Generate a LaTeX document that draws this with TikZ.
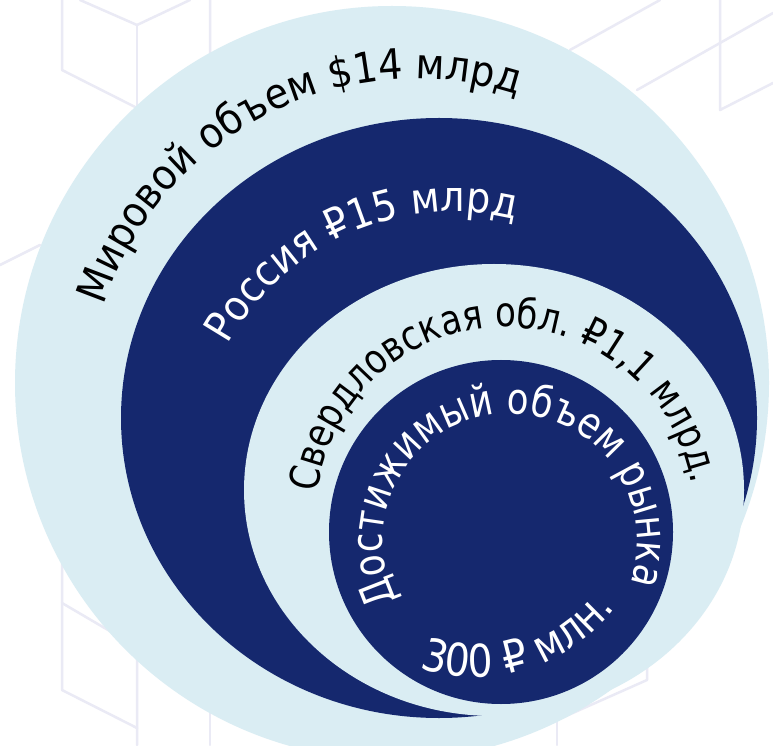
\documentclass[tikz,border=0pt]{standalone}
\usepackage{fontspec}
\newfontfamily\widelabel[FakeStretch=0.91]{DejaVu Sans}
\newfontfamily\narrowlabel[FakeStretch=0.83]{DejaVu Sans}
\newfontfamily\midlabel[FakeStretch=0.875]{DejaVu Sans}
\usetikzlibrary{decorations.text}
\definecolor{paleblue}{RGB}{218,237,243}
\definecolor{navy}{RGB}{21,40,110}
\definecolor{gridline}{RGB}{234,234,245}
\newcommand\worldfont{\widelabel\fontsize{42pt}{50pt}\selectfont}
\newcommand\regionfont{\narrowlabel\fontsize{41pt}{49pt}\selectfont}
\newcommand\reachfont{\narrowlabel\fontsize{43pt}{51pt}\selectfont}
\newcommand\sumfont{\midlabel\fontsize{45pt}{54pt}\selectfont}
\tikzset{
  gridstroke/.style={draw=gridline, line width=2.5pt, line join=round, line cap=round},
}
\begin{document}
\begin{tikzpicture}[x=1pt,y=1pt]
\useasboundingbox (0,0) rectangle (773,745);
\fill[white] (0,0) rectangle (773,745);

% faint cube pattern in the background
\draw[gridstroke] (80,745) -- (137,720) -- (190,745);
\draw[gridstroke] (62,745) -- (62,675) -- (137,637) -- (210,673) -- (210,745);
\draw[gridstroke] (137,720) -- (137,637);
\draw[gridstroke] (570,695) -- (660,745);
\draw[gridstroke] (637,655) -- (773,732);
\draw[gridstroke] (720,745) -- (720,635) -- (773,662);
\draw[gridstroke] (0,480) -- (40,500);
\draw[gridstroke] (62,192) -- (62,55) -- (137,17) -- (137,0);
\draw[gridstroke] (62,142) -- (137,98) -- (137,17);
\draw[gridstroke] (210,52) -- (210,0);
\draw[gridstroke] (557,65) -- (557,0);
\draw[gridstroke] (557,25) -- (647,65) -- (647,88);

% nested market circles
\coordinate (world) at (392,362);
\coordinate (russia) at (439,327);
\coordinate (region) at (494,255);
\coordinate (reach) at (501,213);
\fill[paleblue] (world) circle [radius=377];
\fill[navy] (russia) ellipse [x radius=318, y radius=300];
\fill[paleblue] (region) ellipse [x radius=250, y radius=226];
\fill[navy] (reach) circle [radius=172];

% curved labels
\path[decorate, decoration={text along path, text color=black,
  text={|\worldfont|Мировой объем {\$}14 млрд}}]
  (416,338) ++(162:328) arc [start angle=162, end angle=30, radius=328];
\path[decorate, decoration={text along path, text color=white,
  text={|\worldfont|Россия ₽15 млрд}}]
  (453,275) ++(151:258) arc [start angle=151, end angle=20, radius=258];
\path[decorate, decoration={text along path, text color=black,
  text={|\regionfont|Свердловская обл. ₽1,1 млрд.}}]
  (505,229) ++(173:189) arc [start angle=173, end angle=-45, radius=189];
\path[decorate, decoration={text along path, text color=white,
  text={|\reachfont|Достижимый объем рынка}}]
  (510,204) ++(207.6:127.5) arc [start angle=207.6, end angle=-70, radius=127.5];
\path[decorate, decoration={text along path, text color=white,
  text={|\sumfont|300 ₽ млн.}}]
  (476,241) ++(-109:173) arc [start angle=-109, end angle=10, radius=173];
\end{tikzpicture}
\end{document}
